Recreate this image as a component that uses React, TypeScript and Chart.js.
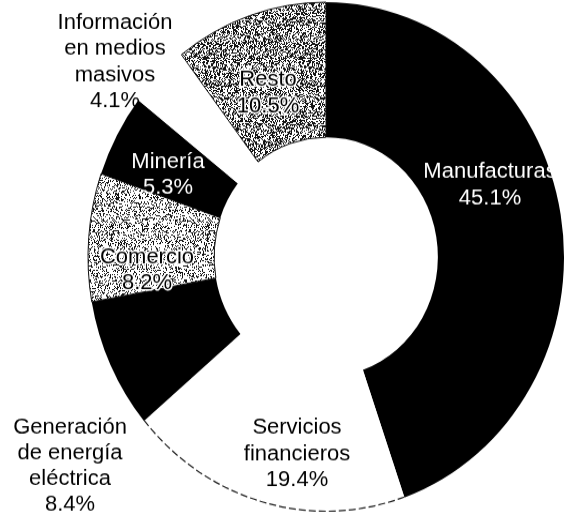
import React, { useEffect, useRef } from 'react';
import { Chart, registerables } from 'chart.js';

Chart.register(...registerables);

// ---- data ----
const categories = [
  'Manufacturas',
  'Servicios financieros',
  'Generación de energía eléctrica',
  'Comercio',
  'Minería',
  'Información en medios masivos',
  'Resto',
];
const shares = [45.1, 19.4, 8.4, 8.2, 5.3, 4.1, 10.5];
const labelLines = [
  ['Manufacturas'],
  ['Servicios', 'financieros'],
  ['Generación', 'de energía', 'eléctrica'],
  ['Comercio'],
  ['Minería'],
  ['Información', 'en medios', 'masivos'],
  ['Resto'],
];

// ---- style ----
const FONT = '"Liberation Sans", Arial, sans-serif';
const W = 568;
const H = 516;
const STRETCH = 1.07; // the scanned doughnut is slightly taller than wide
const CH = Math.round(H / STRETCH);
// label block centre, relative to the doughnut centre (screen pixels)
const labelOffsets = [
  [164, -72],
  [-29, 197],
  [-256, 209],
  [-179, 13],
  [-158, -82],
  [-211, -195],
  [-58, -164],
];
const labelStyles = ['light', 'dark', 'dark', 'halo', 'light', 'dark', 'halo'];

function speckle(ctx: CanvasRenderingContext2D, density: number, seed: number) {
  const size = 96;
  const c = document.createElement('canvas');
  c.width = size;
  c.height = size;
  const g = c.getContext('2d')!;
  const img = g.createImageData(size, size);
  for (let y = 0; y < size; y++) {
    for (let x = 0; x < size; x++) {
      let h = (Math.imul(x, 374761393) + Math.imul(y, 668265263) + Math.imul(seed, 1442695041)) | 0;
      h = Math.imul(h ^ (h >>> 13), 1274126177);
      h ^= h >>> 16;
      const v = (h >>> 0) / 4294967296;
      const col = v < density ? 20 : 255;
      const i = (y * size + x) * 4;
      img.data[i] = col;
      img.data[i + 1] = col;
      img.data[i + 2] = col;
      img.data[i + 3] = 255;
    }
  }
  g.putImageData(img, 0, 0);
  return ctx.createPattern(c, 'repeat')!;
}

const labelPlugin = {
  id: 'sliceLabels',
  afterDatasetsDraw(chart: any) {
    const ctx: CanvasRenderingContext2D = chart.ctx;
    const meta = chart.getDatasetMeta(0);
    const first = meta.data[0];
    if (!first) return;
    const cx = first.x;
    const cyScreen = first.y * STRETCH;

    // outer outline of the white "Servicios financieros" slice
    const arc = meta.data[1].getProps(['x', 'y', 'startAngle', 'endAngle', 'outerRadius'], true);
    ctx.save();
    ctx.beginPath();
    ctx.arc(arc.x, arc.y, arc.outerRadius - 0.5, arc.startAngle, arc.endAngle);
    ctx.strokeStyle = '#222';
    ctx.lineWidth = 1.2;
    ctx.setLineDash([7, 3]);
    ctx.stroke();
    ctx.restore();

    const lh = 26;
    ctx.save();
    ctx.font = `22px ${FONT}`;
    ctx.textAlign = 'center';
    ctx.textBaseline = 'middle';
    categories.forEach((_, i) => {
      const lines = [...labelLines[i], `${shares[i].toFixed(1)}%`];
      const [ox, oy] = labelOffsets[i];
      const x = cx + ox;
      const y0 = cyScreen + oy - ((lines.length - 1) * lh) / 2;
      lines.forEach((t, k) => {
        const ys = y0 + k * lh;
        ctx.save();
        ctx.translate(x, ys / STRETCH);
        ctx.scale(1, 1 / STRETCH);
        const st = labelStyles[i];
        if (st === 'light') {
          ctx.fillStyle = '#ffffff';
          ctx.fillText(t, 0, 0);
        } else if (st === 'halo') {
          ctx.lineWidth = 3;
          ctx.strokeStyle = '#ffffff';
          ctx.lineJoin = 'round';
          ctx.strokeText(t, 0, 0);
          ctx.fillStyle = '#000000';
          ctx.fillText(t, 0, 0);
        } else {
          ctx.fillStyle = '#000000';
          ctx.fillText(t, 0, 0);
        }
        ctx.restore();
      });
    });
    ctx.restore();
  },
};

export default function App() {
  const ref = useRef<HTMLCanvasElement | null>(null);

  useEffect(() => {
    const canvas = ref.current!;
    const ctx = canvas.getContext('2d')!;
    const comercioFill = speckle(ctx, 0.3, 7);
    const restoFill = speckle(ctx, 0.45, 13);

    const chart = new Chart(canvas, {
      type: 'doughnut',
      data: {
        labels: categories,
        datasets: [
          {
            data: shares,
            backgroundColor: ['#000000', '#ffffff', '#000000', comercioFill, '#000000', '#ffffff', restoFill],
            borderColor: ['#000000', '#ffffff', '#000000', '#111111', '#000000', '#ffffff', '#111111'],
            borderWidth: [0, 0, 0, 1, 0, 0, 1],
            clip: false,
          } as any,
        ],
      },
      options: {
        animation: false,
        responsive: true,
        maintainAspectRatio: false,
        radius: 238,
        cutout: '47%',
        layout: { padding: { left: 84, top: 0, right: 0, bottom: 2 } },
        plugins: {
          legend: { display: false },
          tooltip: { enabled: false },
        },
      } as any,
      plugins: [labelPlugin],
    });
    return () => chart.destroy();
  }, []);

  return (
    <div style={{ position: 'absolute', left: 0, top: 0, width: W, height: H, overflow: 'hidden', background: '#fff' }}>
      <div
        style={{
          position: 'absolute',
          left: 0,
          top: 0,
          width: W,
          height: CH,
          transform: `scaleY(${H / CH})`,
          transformOrigin: '0 0',
        }}
      >
        <canvas ref={ref} />
      </div>
    </div>
  );
}
